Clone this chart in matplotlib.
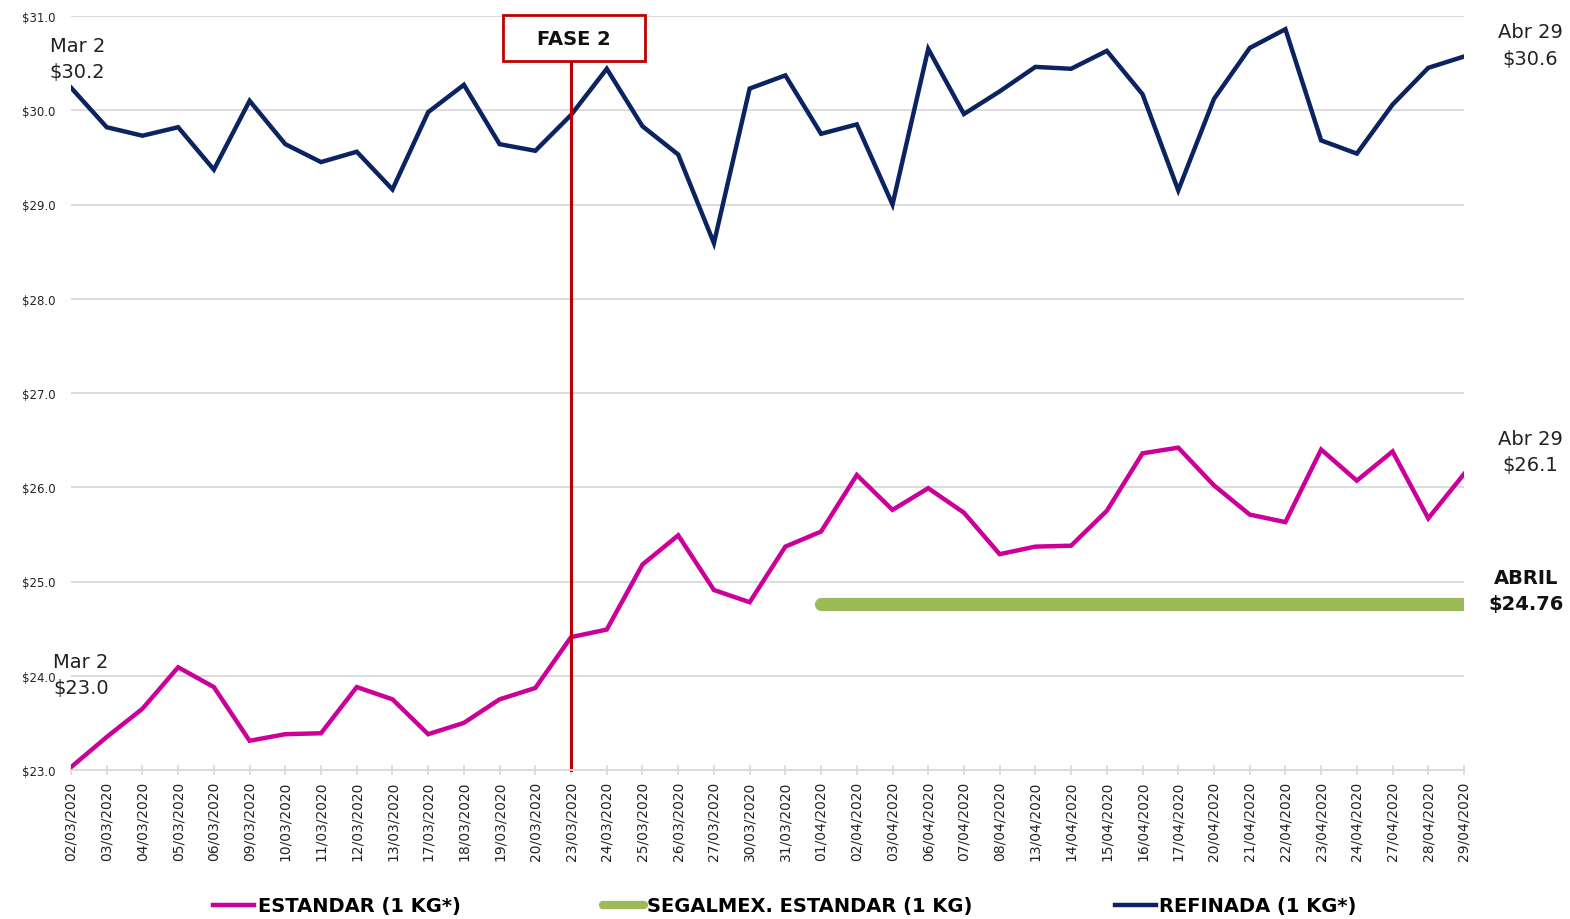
"""
precio del azucar - marzo/abril 2020
"""

from matplotlib import pyplot as plt
from matplotlib.patches import Rectangle
from matplotlib.lines import Line2D

fechas = [
    "02/03/2020", "03/03/2020", "04/03/2020", "05/03/2020", "06/03/2020",
    "09/03/2020", "10/03/2020", "11/03/2020", "12/03/2020", "13/03/2020",
    "17/03/2020", "18/03/2020", "19/03/2020", "20/03/2020", "23/03/2020",
    "24/03/2020", "25/03/2020", "26/03/2020", "27/03/2020", "30/03/2020",
    "31/03/2020", "01/04/2020", "02/04/2020", "03/04/2020", "06/04/2020",
    "07/04/2020", "08/04/2020", "13/04/2020", "14/04/2020", "15/04/2020",
    "16/04/2020", "17/04/2020", "20/04/2020", "21/04/2020", "22/04/2020",
    "23/04/2020", "24/04/2020", "27/04/2020", "28/04/2020", "29/04/2020",
]

refinada = [
    30.24, 29.82, 29.73, 29.82, 29.37, 30.10, 29.64, 29.45, 29.56, 29.16,
    29.98, 30.27, 29.64, 29.57, 29.95, 30.44, 29.83, 29.53, 28.59, 30.23,
    30.37, 29.75, 29.85, 29.00, 30.65, 29.96, 30.20, 30.46, 30.44, 30.63,
    30.17, 29.15, 30.12, 30.66, 30.86, 29.68, 29.54, 30.06, 30.45, 30.57,
]

estandar = [
    23.03, 23.35, 23.65, 24.09, 23.88, 23.31, 23.38, 23.39, 23.88, 23.75,
    23.38, 23.50, 23.75, 23.87, 24.41, 24.49, 25.18, 25.49, 24.91, 24.78,
    25.37, 25.53, 26.13, 25.76, 25.99, 25.73, 25.29, 25.37, 25.38, 25.75,
    26.36, 26.42, 26.02, 25.71, 25.63, 26.40, 26.07, 26.38, 25.67, 26.14,
]

# precio segalmex fijo en abril
segalmex_precio = 24.76
segalmex_inicio = "01/04/2020"

yticks = [23, 24, 25, 26, 27, 28, 29, 30, 31]
fase2_fecha = "23/03/2020"

MAGENTA = "#CC0099"
NAVY = "#0B2461"
GREEN = "#9BBB59"
RED = "#C00000"
GRID = "#D9D9D9"

plt.rcParams['font.family'] = ['DejaVu Sans']

fig = plt.figure(figsize=(15.7, 9.2), dpi=100)
ax = fig.add_axes([71 / 1570, 1 - 771 / 920, (1464 - 71) / 1570, (771 - 17) / 920])

x = list(range(len(fechas)))
ax.plot(x, estandar, color=MAGENTA, lw=3.2, solid_joinstyle='miter')
ax.plot(x, refinada, color=NAVY, lw=3.2, solid_joinstyle='miter')

i0 = fechas.index(segalmex_inicio)
ax.plot([i0, len(fechas) - 1], [segalmex_precio] * 2, color=GREEN, lw=9.5,
        solid_capstyle='round')

ax.set_xlim(0, len(fechas) - 1)
ax.set_ylim(yticks[0], yticks[-1])
ax.set_yticks(yticks)
ax.set_yticklabels([f"${v:.1f}" for v in yticks], fontsize=8.5, color="#222222")
ax.set_xticks(x)
ax.set_xticklabels(fechas, rotation=90, fontsize=10, color="#222222")
ax.grid(axis='y', color=GRID, lw=1.3)
ax.set_axisbelow(True)
for s in ['top', 'right', 'left']:
    ax.spines[s].set_visible(False)
ax.spines['bottom'].set_color(GRID)
ax.spines['bottom'].set_linewidth(1.3)
ax.tick_params(axis='y', length=0, pad=11)
ax.tick_params(axis='x', direction='inout', length=7, color=GRID, width=1.2, pad=4)

# linea fase 2
xf = fechas.index(fase2_fecha)
ax.plot([xf, xf], [yticks[0], 30.52], color=RED, lw=2.2, clip_on=False)
ax.add_patch(Rectangle((xf - 1.90, 30.52), 3.97, 0.49, facecolor='white',
                       edgecolor=RED, lw=2, clip_on=False, zorder=5))
ax.text(xf + 0.08, 30.765, "FASE 2", ha='center', va='center', fontsize=14,
        fontweight='bold', color='#111111', zorder=6)

# etiquetas de inicio y fin
lab = dict(fontsize=14, color='#222222', linespacing=1.5)
ax.text(-0.6, refinada[0] + 0.07, f"Mar 2\n${refinada[0]:.1f}", ha='left', va='bottom', **lab)
ax.text(-0.5, estandar[0] + 0.74, f"Mar 2\n${estandar[0]:.1f}", ha='left', va='bottom', **lab)
ax.text(40.85, refinada[-1] - 0.12, f"Abr 29\n${refinada[-1]:.1f}", ha='center', va='bottom', **lab)
ax.text(40.85, estandar[-1] + 0.0, f"Abr 29\n${estandar[-1]:.1f}", ha='center', va='bottom', **lab)
ax.text(40.75, segalmex_precio - 0.09, f"ABRIL\n${segalmex_precio:.2f}", ha='center',
        va='bottom', fontsize=14, fontweight='bold', color='#111111', linespacing=1.45)

handles = [
    Line2D([], [], color=MAGENTA, lw=3.2),
    Line2D([], [], color=GREEN, lw=6, solid_capstyle='round'),
    Line2D([], [], color=NAVY, lw=3.2),
]
labels = ["ESTANDAR (1 KG*)", "SEGALMEX. ESTANDAR (1 KG)", "REFINADA (1 KG*)"]
fig.legend(handles, labels, loc='center', bbox_to_anchor=(0.5, 1 - 907 / 920), ncol=3,
           frameon=False, handlelength=2.1, handletextpad=0.2, columnspacing=7.3,
           prop={'weight': 'bold', 'size': 14})

fig.savefig("out.png", dpi=100, facecolor='white')
